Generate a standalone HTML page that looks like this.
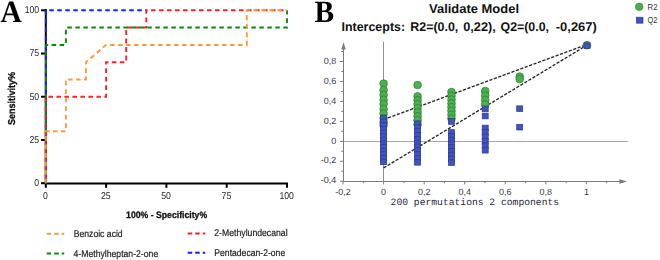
<!DOCTYPE html>
<html><head><meta charset="utf-8"><title>Figure</title>
<style>
html,body{margin:0;padding:0;background:#fff;}
body{width:660px;height:260px;overflow:hidden;font-family:"Liberation Sans", sans-serif;}
svg{display:block;text-rendering:geometricPrecision;}
.gs{filter:grayscale(1);}
</style></head><body>
<svg width="660" height="260" viewBox="0 0 660 260"><text class="gs" transform="translate(0.6,21.9) scale(0.95,1)" x="0" y="0" font-family='"Liberation Serif", serif' font-weight="bold" font-size="31" fill="#000">A</text><line x1="45.8" y1="9.0" x2="45.8" y2="184.3" stroke="#000" stroke-width="2"/><line x1="44.8" y1="183.5" x2="288.0" y2="183.5" stroke="#000" stroke-width="2"/><line x1="41" y1="183.20" x2="45.8" y2="183.20" stroke="#000" stroke-width="2"/><line x1="41" y1="139.97" x2="45.8" y2="139.97" stroke="#000" stroke-width="2"/><line x1="41" y1="96.75" x2="45.8" y2="96.75" stroke="#000" stroke-width="2"/><line x1="41" y1="53.52" x2="45.8" y2="53.52" stroke="#000" stroke-width="2"/><line x1="41" y1="10.30" x2="45.8" y2="10.30" stroke="#000" stroke-width="2"/><line x1="45.80" y1="183.2" x2="45.80" y2="187.8" stroke="#000" stroke-width="2"/><line x1="106.10" y1="183.2" x2="106.10" y2="187.8" stroke="#000" stroke-width="2"/><line x1="166.40" y1="183.2" x2="166.40" y2="187.8" stroke="#000" stroke-width="2"/><line x1="226.70" y1="183.2" x2="226.70" y2="187.8" stroke="#000" stroke-width="2"/><line x1="287.00" y1="183.2" x2="287.00" y2="187.8" stroke="#000" stroke-width="2"/><text class="gs" transform="translate(39.2,186.00) scale(0.88,1)" x="0" y="0" text-anchor="end" font-family='"Liberation Sans", sans-serif' font-size="9.9" fill="#262626">0</text><text class="gs" transform="translate(39.2,142.78) scale(0.88,1)" x="0" y="0" text-anchor="end" font-family='"Liberation Sans", sans-serif' font-size="9.9" fill="#262626">25</text><text class="gs" transform="translate(39.2,99.55) scale(0.88,1)" x="0" y="0" text-anchor="end" font-family='"Liberation Sans", sans-serif' font-size="9.9" fill="#262626">50</text><text class="gs" transform="translate(39.2,56.32) scale(0.88,1)" x="0" y="0" text-anchor="end" font-family='"Liberation Sans", sans-serif' font-size="9.9" fill="#262626">75</text><text class="gs" transform="translate(39.2,13.10) scale(0.88,1)" x="0" y="0" text-anchor="end" font-family='"Liberation Sans", sans-serif' font-size="9.9" fill="#262626">100</text><text class="gs" transform="translate(45.50,199.3) scale(0.88,1)" x="0" y="0" text-anchor="middle" font-family='"Liberation Sans", sans-serif' font-size="9.9" fill="#262626">0</text><text class="gs" transform="translate(105.80,199.3) scale(0.88,1)" x="0" y="0" text-anchor="middle" font-family='"Liberation Sans", sans-serif' font-size="9.9" fill="#262626">25</text><text class="gs" transform="translate(166.10,199.3) scale(0.88,1)" x="0" y="0" text-anchor="middle" font-family='"Liberation Sans", sans-serif' font-size="9.9" fill="#262626">50</text><text class="gs" transform="translate(226.40,199.3) scale(0.88,1)" x="0" y="0" text-anchor="middle" font-family='"Liberation Sans", sans-serif' font-size="9.9" fill="#262626">75</text><text class="gs" transform="translate(286.70,199.3) scale(0.88,1)" x="0" y="0" text-anchor="middle" font-family='"Liberation Sans", sans-serif' font-size="9.9" fill="#262626">100</text><text class="gs" x="126.1" y="217.8" font-family='"Liberation Sans", sans-serif' font-weight="bold" font-size="9.3" fill="#111" stroke="#111" stroke-width="0.3" textLength="81" lengthAdjust="spacingAndGlyphs">100% - Specificity%</text><text class="gs" transform="translate(14.5,124.9) rotate(-90)" x="0" y="0" font-family='"Liberation Sans", sans-serif' font-weight="bold" font-size="10" fill="#111" stroke="#111" stroke-width="0.3" textLength="53" lengthAdjust="spacingAndGlyphs">Sensitivity%</text><g transform="translate(45.8,0) scale(0.941,1) translate(-45.8,0)"><path d="M45.80,183.20 L45.80,44.88" fill="none" stroke="#1a1aff" stroke-width="2" stroke-dasharray="4.8 3.7" stroke-dashoffset="4.25" stroke-linejoin="miter" stroke-linecap="butt"/><path d="M45.80,44.88 L45.80,10.30" fill="none" stroke="#1a1aff" stroke-width="2" stroke-dasharray="4.8 3.7" stroke-dashoffset="4.22" stroke-linejoin="miter" stroke-linecap="butt"/><path d="M45.80,10.30 L152.60,10.30" fill="none" stroke="#1a1aff" stroke-width="2" stroke-dasharray="4.8 3.7" stroke-dashoffset="4.8" stroke-linejoin="miter" stroke-linecap="butt"/><path d="M45.80,183.20 L45.80,96.75 L109.88,96.75 L109.88,62.17 L131.24,62.17 L131.24,27.59 L152.60,27.59 L152.60,10.30 L302.12,10.30" fill="none" stroke="#ff1f2b" stroke-width="2" stroke-dasharray="4.8 3.7" stroke-dashoffset="4.25" stroke-linejoin="miter" stroke-linecap="butt"/><path d="M45.80,183.20 L45.80,44.88 L67.16,44.88 L67.16,27.59 L302.12,27.59 L302.12,10.30" fill="none" stroke="#0a8a0a" stroke-width="2" stroke-dasharray="4.8 3.7" stroke-dashoffset="0" stroke-linejoin="miter" stroke-linecap="butt"/><path d="M45.80,183.20 L45.80,131.33 L67.16,131.33 L67.16,79.46 L88.52,79.46 L88.52,62.17 L109.88,44.88 L259.40,44.88 L259.40,10.30 L302.12,10.30" fill="none" stroke="#ff9a3c" stroke-width="2" stroke-dasharray="4.8 3.7" stroke-dashoffset="0" stroke-linejoin="miter" stroke-linecap="butt"/></g><line x1="46.7" y1="233.7" x2="64.2" y2="233.7" stroke="#ff9a3c" stroke-width="2" stroke-dasharray="4.5 3"/><text class="gs" x="73.7" y="236.8" font-family='"Liberation Sans", sans-serif' font-size="9.8" fill="#222" stroke="#222" stroke-width="0.2" textLength="49" lengthAdjust="spacingAndGlyphs">Benzoic acid</text><line x1="46.7" y1="253.6" x2="64.2" y2="253.6" stroke="#0a8a0a" stroke-width="2" stroke-dasharray="4.5 3"/><text class="gs" x="73.5" y="256.6" font-family='"Liberation Sans", sans-serif' font-size="9.8" fill="#222" stroke="#222" stroke-width="0.2" textLength="84.7" lengthAdjust="spacingAndGlyphs">4-Methylheptan-2-one</text><line x1="187.7" y1="233.5" x2="205.2" y2="233.5" stroke="#ff1f2b" stroke-width="2" stroke-dasharray="4.5 3"/><text class="gs" x="214.3" y="236.4" font-family='"Liberation Sans", sans-serif' font-size="9.8" fill="#222" stroke="#222" stroke-width="0.2" textLength="73.3" lengthAdjust="spacingAndGlyphs">2-Methylundecanal</text><line x1="187.7" y1="252.8" x2="205.2" y2="252.8" stroke="#1a1aff" stroke-width="2" stroke-dasharray="4.5 3"/><text class="gs" x="214.3" y="255.9" font-family='"Liberation Sans", sans-serif' font-size="9.8" fill="#222" stroke="#222" stroke-width="0.2" textLength="70.9" lengthAdjust="spacingAndGlyphs">Pentadecan-2-one</text><text class="gs" transform="translate(314.6,21.9) scale(0.95,1)" x="0" y="0" font-family='"Liberation Serif", serif' font-weight="bold" font-size="31" fill="#000">B</text><text x="429" y="13.1" font-family='"Liberation Sans", sans-serif' font-weight="bold" font-size="12.6" fill="#111" textLength="90" lengthAdjust="spacingAndGlyphs">Validate Model</text><text x="341.5" y="31.4" font-family='"Liberation Sans", sans-serif' font-weight="bold" font-size="12.6" fill="#111" textLength="63.6" lengthAdjust="spacingAndGlyphs">Intercepts:</text><text x="410.3" y="31.4" font-family='"Liberation Sans", sans-serif' font-weight="bold" font-size="12.6" fill="#111" textLength="48.0" lengthAdjust="spacingAndGlyphs">R2=(0.0,</text><text x="463.2" y="31.4" font-family='"Liberation Sans", sans-serif' font-weight="bold" font-size="12.6" fill="#111" textLength="32.6" lengthAdjust="spacingAndGlyphs">0,22),</text><text x="500.5" y="31.4" font-family='"Liberation Sans", sans-serif' font-weight="bold" font-size="12.6" fill="#111" textLength="48.5" lengthAdjust="spacingAndGlyphs">Q2=(0.0,</text><text x="555.8" y="31.4" font-family='"Liberation Sans", sans-serif' font-weight="bold" font-size="12.6" fill="#111" textLength="41.0" lengthAdjust="spacingAndGlyphs">-0,267)</text><circle cx="639.2" cy="6.8" r="3.8" fill="#4caf50" stroke="#2a7f31" stroke-width="0.6"/><rect x="636.3" y="17.2" width="6.7" height="6.0" fill="#4253bd" stroke="#2a3a9a" stroke-width="0.6"/><text x="647.6" y="9.7" font-family='"Liberation Sans", sans-serif' font-size="8.6" fill="#333" textLength="9.9" lengthAdjust="spacingAndGlyphs">R2</text><text x="647.6" y="22.7" font-family='"Liberation Sans", sans-serif' font-size="8.6" fill="#333" textLength="9.9" lengthAdjust="spacingAndGlyphs">Q2</text><line x1="343.5" y1="141.5" x2="628.2" y2="141.5" stroke="#a8a8a8" stroke-width="1"/><line x1="383.5" y1="41.7" x2="383.5" y2="181.5" stroke="#8f8f8f" stroke-width="1"/><line x1="343.5" y1="181.5" x2="343.5" y2="46" stroke="#7a7a7a" stroke-width="1"/><path d="M343.5,42.3 L341.2,49.6 L345.8,49.6 Z" fill="#7a7a7a"/><line x1="343.5" y1="181.5" x2="622" y2="181.5" stroke="#7a7a7a" stroke-width="1"/><path d="M627.0,181.5 L619.4,179.2 L619.4,183.8 Z" fill="#7a7a7a"/><line x1="340" y1="181.20" x2="343.5" y2="181.20" stroke="#7a7a7a" stroke-width="1"/><line x1="341.3" y1="171.23" x2="343.5" y2="171.23" stroke="#7a7a7a" stroke-width="1"/><line x1="340" y1="161.25" x2="343.5" y2="161.25" stroke="#7a7a7a" stroke-width="1"/><line x1="341.3" y1="151.28" x2="343.5" y2="151.28" stroke="#7a7a7a" stroke-width="1"/><line x1="340" y1="141.30" x2="343.5" y2="141.30" stroke="#7a7a7a" stroke-width="1"/><line x1="341.3" y1="131.33" x2="343.5" y2="131.33" stroke="#7a7a7a" stroke-width="1"/><line x1="340" y1="121.35" x2="343.5" y2="121.35" stroke="#7a7a7a" stroke-width="1"/><line x1="341.3" y1="111.38" x2="343.5" y2="111.38" stroke="#7a7a7a" stroke-width="1"/><line x1="340" y1="101.40" x2="343.5" y2="101.40" stroke="#7a7a7a" stroke-width="1"/><line x1="341.3" y1="91.43" x2="343.5" y2="91.43" stroke="#7a7a7a" stroke-width="1"/><line x1="340" y1="81.45" x2="343.5" y2="81.45" stroke="#7a7a7a" stroke-width="1"/><line x1="341.3" y1="71.48" x2="343.5" y2="71.48" stroke="#7a7a7a" stroke-width="1"/><line x1="340" y1="61.50" x2="343.5" y2="61.50" stroke="#7a7a7a" stroke-width="1"/><line x1="341.3" y1="51.53" x2="343.5" y2="51.53" stroke="#7a7a7a" stroke-width="1"/><text x="336.2" y="63.70" text-anchor="end" font-family='"Liberation Sans", sans-serif' font-size="9" fill="#3a3a4a">0,8</text><text x="336.2" y="83.65" text-anchor="end" font-family='"Liberation Sans", sans-serif' font-size="9" fill="#3a3a4a">0,6</text><text x="336.2" y="103.60" text-anchor="end" font-family='"Liberation Sans", sans-serif' font-size="9" fill="#3a3a4a">0,4</text><text x="336.2" y="123.55" text-anchor="end" font-family='"Liberation Sans", sans-serif' font-size="9" fill="#3a3a4a">0,2</text><text x="336.2" y="143.50" text-anchor="end" font-family='"Liberation Sans", sans-serif' font-size="9" fill="#3a3a4a">0</text><text x="336.2" y="163.45" text-anchor="end" font-family='"Liberation Sans", sans-serif' font-size="9" fill="#3a3a4a">-0,2</text><text x="336.2" y="183.40" text-anchor="end" font-family='"Liberation Sans", sans-serif' font-size="9" fill="#3a3a4a">-0,4</text><line x1="343.04" y1="181.5" x2="343.04" y2="184.4" stroke="#7a7a7a" stroke-width="1"/><line x1="363.32" y1="181.5" x2="363.32" y2="183.2" stroke="#7a7a7a" stroke-width="1"/><line x1="383.60" y1="181.5" x2="383.60" y2="184.4" stroke="#7a7a7a" stroke-width="1"/><line x1="403.88" y1="181.5" x2="403.88" y2="183.2" stroke="#7a7a7a" stroke-width="1"/><line x1="424.16" y1="181.5" x2="424.16" y2="184.4" stroke="#7a7a7a" stroke-width="1"/><line x1="444.44" y1="181.5" x2="444.44" y2="183.2" stroke="#7a7a7a" stroke-width="1"/><line x1="464.72" y1="181.5" x2="464.72" y2="184.4" stroke="#7a7a7a" stroke-width="1"/><line x1="485.00" y1="181.5" x2="485.00" y2="183.2" stroke="#7a7a7a" stroke-width="1"/><line x1="505.28" y1="181.5" x2="505.28" y2="184.4" stroke="#7a7a7a" stroke-width="1"/><line x1="525.56" y1="181.5" x2="525.56" y2="183.2" stroke="#7a7a7a" stroke-width="1"/><line x1="545.84" y1="181.5" x2="545.84" y2="184.4" stroke="#7a7a7a" stroke-width="1"/><line x1="566.12" y1="181.5" x2="566.12" y2="183.2" stroke="#7a7a7a" stroke-width="1"/><line x1="586.40" y1="181.5" x2="586.40" y2="184.4" stroke="#7a7a7a" stroke-width="1"/><line x1="606.68" y1="181.5" x2="606.68" y2="183.2" stroke="#7a7a7a" stroke-width="1"/><text x="343.04" y="194.8" text-anchor="middle" font-family='"Liberation Sans", sans-serif' font-size="9" fill="#3a3a4a">-0,2</text><text x="383.60" y="194.8" text-anchor="middle" font-family='"Liberation Sans", sans-serif' font-size="9" fill="#3a3a4a">0</text><text x="424.16" y="194.8" text-anchor="middle" font-family='"Liberation Sans", sans-serif' font-size="9" fill="#3a3a4a">0,2</text><text x="464.72" y="194.8" text-anchor="middle" font-family='"Liberation Sans", sans-serif' font-size="9" fill="#3a3a4a">0,4</text><text x="505.28" y="194.8" text-anchor="middle" font-family='"Liberation Sans", sans-serif' font-size="9" fill="#3a3a4a">0,6</text><text x="545.84" y="194.8" text-anchor="middle" font-family='"Liberation Sans", sans-serif' font-size="9" fill="#3a3a4a">0,8</text><text x="586.40" y="194.8" text-anchor="middle" font-family='"Liberation Sans", sans-serif' font-size="9" fill="#3a3a4a">1</text><text x="390.6" y="205.0" font-family='"Liberation Mono", monospace' font-size="9.7" fill="#2a2a3a" textLength="168.5" lengthAdjust="spacingAndGlyphs">200 permutations 2 components</text><line x1="383.6" y1="119.56" x2="586.40" y2="44.64" stroke="#262626" stroke-width="1.35" stroke-dasharray="3.2 1.5"/><line x1="383.6" y1="167.93" x2="586.40" y2="45.54" stroke="#262626" stroke-width="1.35" stroke-dasharray="3.2 1.5"/><circle cx="383.60" cy="83.60" r="3.85" fill="#4caf50" stroke="#2a7f31" stroke-width="0.7"/><circle cx="383.60" cy="90.20" r="3.85" fill="#4caf50" stroke="#2a7f31" stroke-width="0.7"/><circle cx="383.60" cy="95.00" r="3.85" fill="#4caf50" stroke="#2a7f31" stroke-width="0.7"/><circle cx="383.60" cy="99.80" r="3.85" fill="#4caf50" stroke="#2a7f31" stroke-width="0.7"/><circle cx="383.60" cy="104.00" r="3.85" fill="#4caf50" stroke="#2a7f31" stroke-width="0.7"/><circle cx="383.60" cy="109.00" r="3.85" fill="#4caf50" stroke="#2a7f31" stroke-width="0.7"/><circle cx="383.60" cy="113.50" r="3.85" fill="#4caf50" stroke="#2a7f31" stroke-width="0.7"/><circle cx="383.60" cy="118.00" r="3.85" fill="#4caf50" stroke="#2a7f31" stroke-width="0.7"/><circle cx="383.60" cy="122.00" r="3.85" fill="#4caf50" stroke="#2a7f31" stroke-width="0.7"/><circle cx="383.60" cy="125.00" r="3.85" fill="#4caf50" stroke="#2a7f31" stroke-width="0.7"/><circle cx="417.60" cy="85.00" r="3.85" fill="#4caf50" stroke="#2a7f31" stroke-width="0.7"/><circle cx="417.60" cy="96.30" r="3.85" fill="#4caf50" stroke="#2a7f31" stroke-width="0.7"/><circle cx="417.60" cy="100.30" r="3.85" fill="#4caf50" stroke="#2a7f31" stroke-width="0.7"/><circle cx="417.60" cy="104.30" r="3.85" fill="#4caf50" stroke="#2a7f31" stroke-width="0.7"/><circle cx="417.60" cy="108.30" r="3.85" fill="#4caf50" stroke="#2a7f31" stroke-width="0.7"/><circle cx="417.60" cy="112.30" r="3.85" fill="#4caf50" stroke="#2a7f31" stroke-width="0.7"/><circle cx="417.60" cy="116.30" r="3.85" fill="#4caf50" stroke="#2a7f31" stroke-width="0.7"/><circle cx="417.60" cy="120.30" r="3.85" fill="#4caf50" stroke="#2a7f31" stroke-width="0.7"/><circle cx="417.60" cy="124.30" r="3.85" fill="#4caf50" stroke="#2a7f31" stroke-width="0.7"/><circle cx="451.50" cy="92.00" r="3.85" fill="#4caf50" stroke="#2a7f31" stroke-width="0.7"/><circle cx="451.50" cy="95.79" r="3.85" fill="#4caf50" stroke="#2a7f31" stroke-width="0.7"/><circle cx="451.50" cy="99.57" r="3.85" fill="#4caf50" stroke="#2a7f31" stroke-width="0.7"/><circle cx="451.50" cy="103.36" r="3.85" fill="#4caf50" stroke="#2a7f31" stroke-width="0.7"/><circle cx="451.50" cy="107.14" r="3.85" fill="#4caf50" stroke="#2a7f31" stroke-width="0.7"/><circle cx="451.50" cy="110.93" r="3.85" fill="#4caf50" stroke="#2a7f31" stroke-width="0.7"/><circle cx="451.50" cy="114.71" r="3.85" fill="#4caf50" stroke="#2a7f31" stroke-width="0.7"/><circle cx="451.50" cy="118.50" r="3.85" fill="#4caf50" stroke="#2a7f31" stroke-width="0.7"/><circle cx="485.20" cy="91.00" r="3.85" fill="#4caf50" stroke="#2a7f31" stroke-width="0.7"/><circle cx="485.20" cy="95.50" r="3.85" fill="#4caf50" stroke="#2a7f31" stroke-width="0.7"/><circle cx="485.20" cy="100.00" r="3.85" fill="#4caf50" stroke="#2a7f31" stroke-width="0.7"/><circle cx="485.20" cy="104.50" r="3.85" fill="#4caf50" stroke="#2a7f31" stroke-width="0.7"/><circle cx="519.70" cy="76.60" r="3.85" fill="#4caf50" stroke="#2a7f31" stroke-width="0.7"/><circle cx="519.70" cy="79.00" r="3.85" fill="#4caf50" stroke="#2a7f31" stroke-width="0.7"/><circle cx="587.00" cy="45.20" r="3.85" fill="#4caf50" stroke="#2a7f31" stroke-width="0.7"/><rect x="380.60" y="115.45" width="6.0" height="5.7" fill="#4253bd" stroke="#2a3a9a" stroke-width="0.7"/><rect x="380.60" y="119.08" width="6.0" height="5.7" fill="#4253bd" stroke="#2a3a9a" stroke-width="0.7"/><rect x="380.60" y="122.72" width="6.0" height="5.7" fill="#4253bd" stroke="#2a3a9a" stroke-width="0.7"/><rect x="380.60" y="126.35" width="6.0" height="5.7" fill="#4253bd" stroke="#2a3a9a" stroke-width="0.7"/><rect x="380.60" y="129.98" width="6.0" height="5.7" fill="#4253bd" stroke="#2a3a9a" stroke-width="0.7"/><rect x="380.60" y="133.62" width="6.0" height="5.7" fill="#4253bd" stroke="#2a3a9a" stroke-width="0.7"/><rect x="380.60" y="137.25" width="6.0" height="5.7" fill="#4253bd" stroke="#2a3a9a" stroke-width="0.7"/><rect x="380.60" y="140.88" width="6.0" height="5.7" fill="#4253bd" stroke="#2a3a9a" stroke-width="0.7"/><rect x="380.60" y="144.52" width="6.0" height="5.7" fill="#4253bd" stroke="#2a3a9a" stroke-width="0.7"/><rect x="380.60" y="148.15" width="6.0" height="5.7" fill="#4253bd" stroke="#2a3a9a" stroke-width="0.7"/><rect x="380.60" y="151.78" width="6.0" height="5.7" fill="#4253bd" stroke="#2a3a9a" stroke-width="0.7"/><rect x="380.60" y="155.42" width="6.0" height="5.7" fill="#4253bd" stroke="#2a3a9a" stroke-width="0.7"/><rect x="380.60" y="159.05" width="6.0" height="5.7" fill="#4253bd" stroke="#2a3a9a" stroke-width="0.7"/><rect x="414.60" y="120.95" width="6.0" height="5.7" fill="#4253bd" stroke="#2a3a9a" stroke-width="0.7"/><rect x="414.60" y="124.80" width="6.0" height="5.7" fill="#4253bd" stroke="#2a3a9a" stroke-width="0.7"/><rect x="414.60" y="128.65" width="6.0" height="5.7" fill="#4253bd" stroke="#2a3a9a" stroke-width="0.7"/><rect x="414.60" y="132.50" width="6.0" height="5.7" fill="#4253bd" stroke="#2a3a9a" stroke-width="0.7"/><rect x="414.60" y="136.35" width="6.0" height="5.7" fill="#4253bd" stroke="#2a3a9a" stroke-width="0.7"/><rect x="414.60" y="140.20" width="6.0" height="5.7" fill="#4253bd" stroke="#2a3a9a" stroke-width="0.7"/><rect x="414.60" y="144.05" width="6.0" height="5.7" fill="#4253bd" stroke="#2a3a9a" stroke-width="0.7"/><rect x="414.60" y="147.90" width="6.0" height="5.7" fill="#4253bd" stroke="#2a3a9a" stroke-width="0.7"/><rect x="414.60" y="151.75" width="6.0" height="5.7" fill="#4253bd" stroke="#2a3a9a" stroke-width="0.7"/><rect x="414.60" y="155.60" width="6.0" height="5.7" fill="#4253bd" stroke="#2a3a9a" stroke-width="0.7"/><rect x="414.60" y="159.45" width="6.0" height="5.7" fill="#4253bd" stroke="#2a3a9a" stroke-width="0.7"/><rect x="448.50" y="118.60" width="6.0" height="5.7" fill="#4253bd" stroke="#2a3a9a" stroke-width="0.7"/><rect x="448.50" y="129.65" width="6.0" height="5.7" fill="#4253bd" stroke="#2a3a9a" stroke-width="0.7"/><rect x="448.50" y="133.41" width="6.0" height="5.7" fill="#4253bd" stroke="#2a3a9a" stroke-width="0.7"/><rect x="448.50" y="137.18" width="6.0" height="5.7" fill="#4253bd" stroke="#2a3a9a" stroke-width="0.7"/><rect x="448.50" y="140.94" width="6.0" height="5.7" fill="#4253bd" stroke="#2a3a9a" stroke-width="0.7"/><rect x="448.50" y="144.70" width="6.0" height="5.7" fill="#4253bd" stroke="#2a3a9a" stroke-width="0.7"/><rect x="448.50" y="148.46" width="6.0" height="5.7" fill="#4253bd" stroke="#2a3a9a" stroke-width="0.7"/><rect x="448.50" y="152.22" width="6.0" height="5.7" fill="#4253bd" stroke="#2a3a9a" stroke-width="0.7"/><rect x="448.50" y="155.99" width="6.0" height="5.7" fill="#4253bd" stroke="#2a3a9a" stroke-width="0.7"/><rect x="448.50" y="159.75" width="6.0" height="5.7" fill="#4253bd" stroke="#2a3a9a" stroke-width="0.7"/><rect x="482.20" y="106.05" width="6.0" height="5.7" fill="#4253bd" stroke="#2a3a9a" stroke-width="0.7"/><rect x="482.20" y="113.15" width="6.0" height="5.7" fill="#4253bd" stroke="#2a3a9a" stroke-width="0.7"/><rect x="482.20" y="125.15" width="6.0" height="5.7" fill="#4253bd" stroke="#2a3a9a" stroke-width="0.7"/><rect x="482.20" y="129.59" width="6.0" height="5.7" fill="#4253bd" stroke="#2a3a9a" stroke-width="0.7"/><rect x="482.20" y="134.03" width="6.0" height="5.7" fill="#4253bd" stroke="#2a3a9a" stroke-width="0.7"/><rect x="482.20" y="138.47" width="6.0" height="5.7" fill="#4253bd" stroke="#2a3a9a" stroke-width="0.7"/><rect x="482.20" y="142.91" width="6.0" height="5.7" fill="#4253bd" stroke="#2a3a9a" stroke-width="0.7"/><rect x="482.20" y="147.35" width="6.0" height="5.7" fill="#4253bd" stroke="#2a3a9a" stroke-width="0.7"/><rect x="516.70" y="105.85" width="6.0" height="5.7" fill="#4253bd" stroke="#2a3a9a" stroke-width="0.7"/><rect x="516.70" y="124.30" width="6.0" height="5.7" fill="#4253bd" stroke="#2a3a9a" stroke-width="0.7"/><rect x="584.00" y="42.85" width="6.0" height="5.7" fill="#4253bd" stroke="#2a3a9a" stroke-width="0.7"/></svg>
</body></html>
